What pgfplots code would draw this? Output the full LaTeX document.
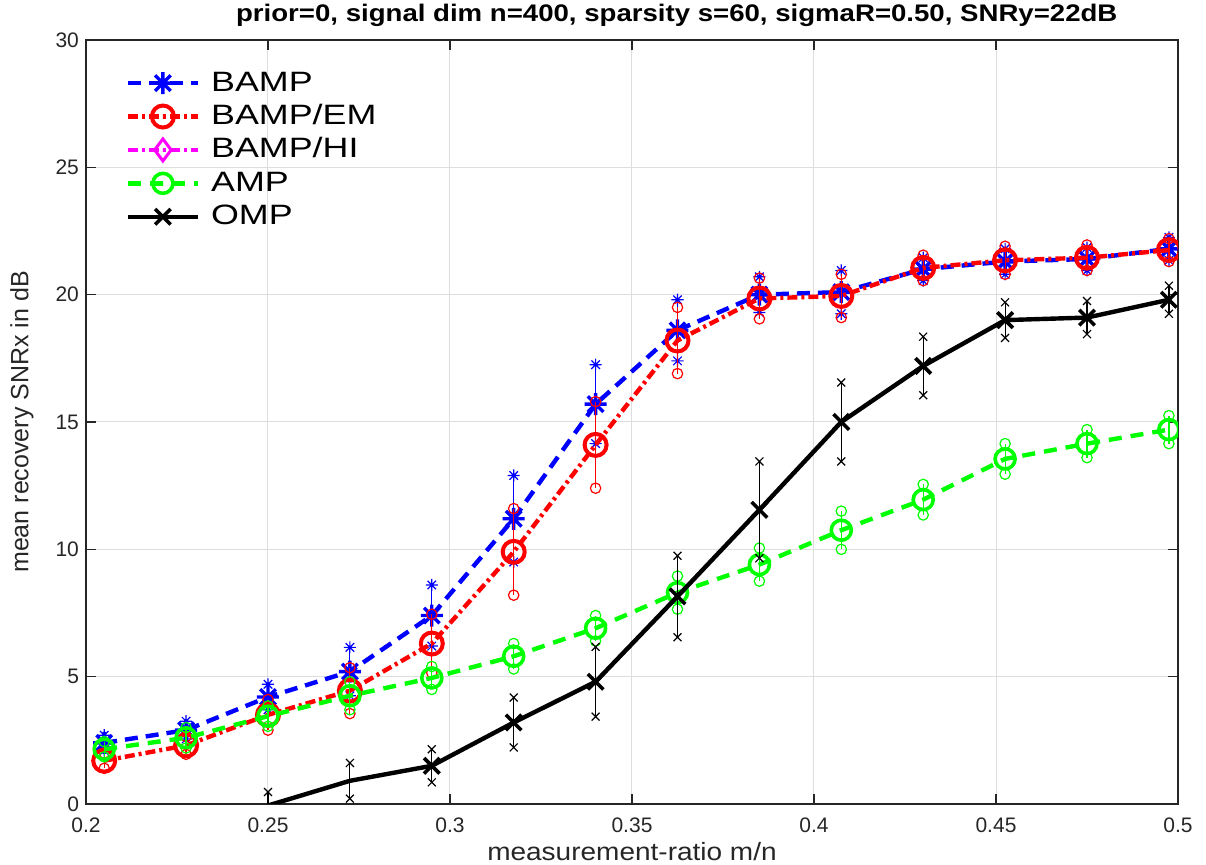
\documentclass[border=0pt]{standalone}
\usepackage{fontspec}
\setmainfont{Liberation Sans}
\newfontfamily\legfont[FakeStretch=1.28]{Liberation Sans}
\newfontfamily\xlabfont[FakeStretch=1.12]{Liberation Sans}
\newfontfamily\titlefont[FakeStretch=1.15]{Liberation Sans}
\usepackage{pgfplots}
\usepackage{pgfplotstable}
\pgfplotsset{compat=1.18}

\definecolor{mblue}{rgb}{0,0,1}
\definecolor{mred}{rgb}{1,0,0}
\definecolor{mmag}{rgb}{1,0,1}
\definecolor{mgreen}{rgb}{0,1,0}
\definecolor{axgray}{rgb}{0.15,0.15,0.15}

% matlab-style '*' marker (plus and cross together)
\pgfdeclareplotmark{mstar}{%
  \pgfpathmoveto{\pgfqpoint{0pt}{\pgfplotmarksize}}%
  \pgfpathlineto{\pgfqpoint{0pt}{-\pgfplotmarksize}}%
  \pgfpathmoveto{\pgfqpoint{\pgfplotmarksize}{0pt}}%
  \pgfpathlineto{\pgfqpoint{-\pgfplotmarksize}{0pt}}%
  \pgfpathmoveto{\pgfqpoint{0.707\pgfplotmarksize}{0.707\pgfplotmarksize}}%
  \pgfpathlineto{\pgfqpoint{-0.707\pgfplotmarksize}{-0.707\pgfplotmarksize}}%
  \pgfpathmoveto{\pgfqpoint{-0.707\pgfplotmarksize}{0.707\pgfplotmarksize}}%
  \pgfpathlineto{\pgfqpoint{0.707\pgfplotmarksize}{-0.707\pgfplotmarksize}}%
  \pgfusepathqstroke}

% x = m/n, y = mean SNRx, e = error half-width
\pgfplotstableread{
x y e
0.205 2.4 0.3
0.2275 2.9 0.35
0.25 4.2 0.5
0.2725 5.2 0.95
0.295 7.4 1.2
0.3175 11.2 1.7
0.34 15.7 1.55
0.3625 18.6 1.2
0.385 20.0 0.7
0.4075 20.1 0.85
0.43 21.0 0.45
0.4525 21.3 0.5
0.475 21.4 0.45
0.4975 21.8 0.45
}\bamp

\pgfplotstableread{
x y e
0.205 1.7 0.3
0.2275 2.3 0.35
0.25 3.5 0.6
0.2725 4.45 0.9
0.295 6.3 1.15
0.3175 9.9 1.7
0.34 14.1 1.7
0.3625 18.2 1.3
0.385 19.85 0.8
0.4075 19.95 0.85
0.43 21.05 0.5
0.4525 21.35 0.55
0.475 21.45 0.5
0.4975 21.75 0.45
}\bampem

\pgfplotstableread{
x y e
0.205 2.15 0.3
0.2275 2.6 0.4
0.25 3.45 0.4
0.2725 4.25 0.55
0.295 4.95 0.45
0.3175 5.8 0.5
0.34 6.9 0.5
0.3625 8.3 0.65
0.385 9.4 0.65
0.4075 10.75 0.75
0.43 11.95 0.6
0.4525 13.55 0.6
0.475 14.15 0.55
0.4975 14.7 0.55
}\amp

\pgfplotstableread{
x y e
0.25 -0.06 0.53
0.2725 0.91 0.7
0.295 1.5 0.65
0.3175 3.2 0.98
0.34 4.8 1.37
0.3625 8.15 1.6
0.385 11.55 1.9
0.4075 15.0 1.55
0.43 17.2 1.15
0.4525 19.0 0.7
0.475 19.1 0.65
0.4975 19.8 0.55
}\omp

\begin{document}
\begin{tikzpicture}
\path[use as bounding box] (-43pt,-30.5pt) rectangle (560pt,402pt);
\begin{axis}[
  at={(0,0)}, anchor=south west,
  width=546pt, height=382pt, scale only axis,
  xmin=0.2, xmax=0.5, ymin=0, ymax=30,
  xtick={0.2,0.25,0.3,0.35,0.4,0.45,0.5},
  ytick={0,5,10,15,20,25,30},
  grid=major, major grid style={black!13, line width=0.5pt},
  tick align=inside, major tick length=5pt,
  axis line style={axgray, line width=0.8pt},
  tick style={axgray, line width=0.6pt},
  /pgf/number format/assume math mode=true,
  ticklabel style={font=\fontsize{10.5}{12}\selectfont, text=axgray},
  xticklabel style={yshift=-3.5pt},
  xlabel={measurement-ratio m/n},
  ylabel={mean recovery SNRx in dB},
  label style={font=\fontsize{12.5}{14}\selectfont, text=axgray},
  xlabel style={font=\xlabfont\fontsize{12.5}{14}\selectfont,
    at={(axis description cs:0.5,-0.0628)}, anchor=center},
  ylabel style={at={(axis description cs:-0.0586,0.5)}, anchor=center},
  title={prior=0, signal dim n=400, sparsity s=60, sigmaR=0.50, SNRy=22dB},
  title style={font=\titlefont\bfseries\fontsize{12}{14}\selectfont,
    at={(axis description cs:0.541,1.016)}, anchor=center, yshift=0pt},
  clip marker paths=true,
  legend cell align=left,
  legend style={draw=none, fill=none, inner sep=0pt,
    at={(axis description cs:0.036,0.965)}, anchor=north west,
    font=\legfont\fontsize{14}{16}\selectfont,
    nodes={inner ysep=1pt, text height=11pt, text depth=3pt},
    /tikz/every odd column/.append style={column sep=3.5pt},
    row sep=0.7pt},
  legend image code/.code={%
    \draw[mark repeat=2, mark phase=2]
      plot coordinates {(0pt,0pt) (17.5pt,0pt) (35pt,0pt)};},
]
\addplot[mblue, line width=2.2pt, dash pattern=on 6.5pt off 4pt,
  mark=mstar, mark size=5.5pt, mark options={solid, line width=1.7pt},
  error bars/.cd, y dir=both, y explicit,
  error mark=mstar, error mark options={mblue, mark size=3pt, line width=0.6pt, solid},
  error bar style={line width=0.6pt, solid}]
  table[x=x, y=y, y error=e] {\bamp};
\addlegendentry{BAMP}
\addplot[mred, line width=2.2pt, dash pattern=on 5pt off 2pt on 1.5pt off 2pt,
  mark=o, mark size=5.5pt, mark options={solid, line width=2pt},
  error bars/.cd, y dir=both, y explicit,
  error mark=o, error mark options={mred, mark size=2.6pt, line width=0.6pt, solid},
  error bar style={line width=0.6pt, solid}]
  table[x=x, y=y, y error=e] {\bampem};
\addlegendentry{BAMP/EM}
\addlegendimage{mmag, line width=2.2pt, dash pattern=on 5pt off 2pt on 1.5pt off 2pt,
  mark=diamond, mark size=5.5pt, mark options={solid, line width=1.5pt}}
\addlegendentry{BAMP/HI}
\addplot[mgreen, line width=2.2pt, dash pattern=on 6.5pt off 4.5pt,
  mark=o, mark size=5pt, mark options={solid, line width=1.8pt},
  error bars/.cd, y dir=both, y explicit,
  error mark=o, error mark options={mgreen, mark size=2.6pt, line width=0.6pt, solid},
  error bar style={line width=0.6pt, solid}]
  table[x=x, y=y, y error=e] {\amp};
\addlegendentry{AMP}
\addplot[black, line width=2.2pt, solid,
  mark=x, mark size=5.5pt, mark options={solid, line width=1.8pt},
  mark indices={2,...,12},
  legend image code/.code={%
    \draw[mark indices={2}]
      plot coordinates {(0pt,0pt) (17.5pt,0pt) (35pt,0pt)};},
  error bars/.cd, y dir=both, y explicit,
  error mark=x, error mark options={black, mark size=2.8pt, line width=0.6pt, solid},
  error bar style={line width=0.6pt, solid}]
  table[x=x, y=y, y error=e] {\omp};
\addlegendentry{OMP}
\end{axis}
\end{tikzpicture}
\end{document}
